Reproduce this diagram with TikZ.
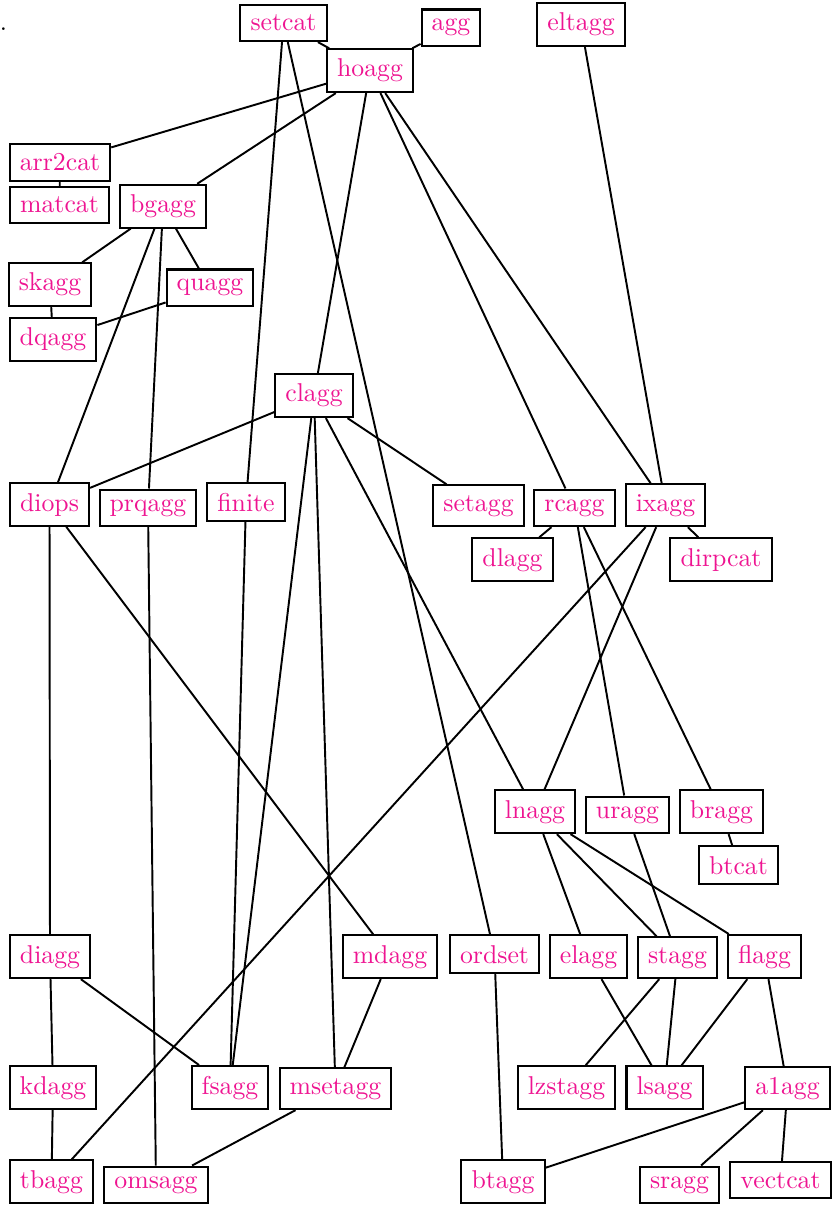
\documentclass[tikz,border=0pt]{standalone}
\usepackage{amsmath}
\usepackage{tikz}
\usetikzlibrary{shapes,positioning,calc}
\definecolor{rosa}{RGB}{238,20,145}
\tikzstyle{dominio} = [rectangle, draw=black, line width=0.8pt, text=rosa, inner xsep=3.9pt, inner ysep=3.8pt, anchor=base]
\tikzstyle{linea} = [line width=0.75pt]

\begin{document}
\begin{tikzpicture}[x=0.388pt,y=-0.388pt]
	\useasboundingbox (0,0) rectangle (833,1205);
	\node (punto) at (3.5,31) [anchor=base, inner sep=0pt] {.};
	% prima fila
	\node (setcat) at (283.5,31) [dominio] {setcat};
	\node (agg) at (451,31) [dominio] {agg};
	\node (eltagg) at (581,31) [dominio] {eltagg};
	\node (hoagg) at (370,77) [dominio] {hoagg};
	\node (arr2cat) at (60,171) [dominio] {arr2cat};
	\node (matcat) at (59.5,212.5) [dominio] {matcat};
	\node (bgagg) at (163,212.5) [dominio] {bgagg};
	\node (skagg) at (50,291) [dominio] {skagg};
	\node (quagg) at (210,291) [dominio] {quagg};
	\node (dqagg) at (53,346) [dominio] {dqagg};
	\node (clagg) at (314,402) [dominio] {clagg};
	% fila centrale
	\node (diops) at (49.5,511) [dominio] {diops};
	\node (prqagg) at (148,511) [dominio] {prqagg};
	\node (finite) at (246,511) [dominio] {finite};
	\node (setagg) at (478.5,511) [dominio] {setagg};
	\node (rcagg) at (574.5,511) [dominio] {rcagg};
	\node (ixagg) at (665.5,511) [dominio] {ixagg};
	\node (dlagg) at (512.5,566) [dominio] {dlagg};
	\node (dirpcat) at (721,566) [dominio] {dirpcat};
	\node (lnagg) at (535,818) [dominio] {lnagg};
	\node (uragg) at (627.5,818) [dominio] {uragg};
	\node (bragg) at (721.5,818) [dominio] {bragg};
	\node (btcat) at (738.5,874) [dominio] {btcat};
	% file in basso
	\node (diagg) at (50,963) [dominio] {diagg};
	\node (mdagg) at (390,963) [dominio] {mdagg};
	\node (ordset) at (494.5,963) [dominio] {ordset};
	\node (elagg) at (588.5,963) [dominio] {elagg};
	\node (stagg) at (677.5,963) [dominio] {stagg};
	\node (flagg) at (764.5,963) [dominio] {flagg};
	\node (kdagg) at (53,1094) [dominio] {kdagg};
	\node (fsagg) at (230,1094) [dominio] {fsagg};
	\node (msetagg) at (335.5,1094) [dominio] {msetagg};
	\node (lzstagg) at (566.5,1094) [dominio] {lzstagg};
	\node (lsagg) at (664.5,1094) [dominio] {lsagg};
	\node (a1agg) at (787.5,1094) [dominio] {a1agg};
	\node (tbagg) at (51.5,1188) [dominio] {tbagg};
	\node (omsagg) at (156,1188) [dominio] {omsagg};
	\node (btagg) at (503,1188) [dominio] {btagg};
	\node (sragg) at (679.5,1188) [dominio] {sragg};
	\node (vectcat) at (780.5,1188) [dominio] {vectcat};
	% collegamenti
	\draw[linea] (setcat) -- (hoagg);
	\draw[linea] (agg) -- (hoagg);
	\draw[linea] (hoagg) -- (arr2cat);
	\draw[linea] (hoagg) -- (bgagg);
	\draw[linea] (arr2cat) -- (matcat);
	\draw[linea] (bgagg) -- (skagg);
	\draw[linea] (bgagg) -- (quagg);
	\draw[linea] (skagg) -- (dqagg);
	\draw[linea] (quagg) -- (dqagg);
	\draw[linea] (bgagg) -- (diops);
	\draw[linea] (bgagg) -- (prqagg);
	\draw[linea] (setcat) -- (finite);
	\draw[linea] (setcat) -- (ordset);
	\draw[linea] (hoagg) -- (clagg);
	\draw[linea] (hoagg) -- (rcagg);
	\draw[linea] (hoagg) -- (ixagg);
	\draw[linea] (eltagg) -- (ixagg);
	\draw[linea] (clagg) -- (diops);
	\draw[linea] (clagg) -- (setagg);
	\draw[linea] (clagg) -- (fsagg);
	\draw[linea] (clagg) -- (msetagg);
	\draw[linea] (clagg) -- (lnagg);
	\draw[linea] (rcagg) -- (dlagg);
	\draw[linea] (rcagg) -- (uragg);
	\draw[linea] (rcagg) -- (bragg);
	\draw[linea] (ixagg) -- (dirpcat);
	\draw[linea] (ixagg) -- (tbagg);
	\draw[linea] (ixagg) -- (lnagg);
	\draw[linea] (diops) -- (diagg);
	\draw[linea] (diops) -- (mdagg);
	\draw[linea] (prqagg) -- (omsagg);
	\draw[linea] (finite) -- (fsagg);
	\draw[linea] (bragg) -- (btcat);
	\draw[linea] (lnagg) -- (elagg);
	\draw[linea] (lnagg) -- (stagg);
	\draw[linea] (lnagg) -- (flagg);
	\draw[linea] (uragg) -- (stagg);
	\draw[linea] (ordset) -- (btagg);
	\draw[linea] (elagg) -- (lsagg);
	\draw[linea] (stagg) -- (lzstagg);
	\draw[linea] (stagg) -- (lsagg);
	\draw[linea] (flagg) -- (lsagg);
	\draw[linea] (flagg) -- (a1agg);
	\draw[linea] (diagg) -- (kdagg);
	\draw[linea] (diagg) -- (fsagg);
	\draw[linea] (mdagg) -- (msetagg);
	\draw[linea] (kdagg) -- (tbagg);
	\draw[linea] (msetagg) -- (omsagg);
	\draw[linea] (a1agg) -- (btagg);
	\draw[linea] (a1agg) -- (sragg);
	\draw[linea] (a1agg) -- (vectcat);
\end{tikzpicture}
\end{document}
